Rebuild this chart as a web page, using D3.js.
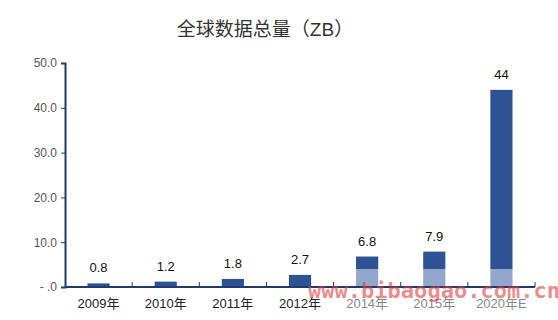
<!DOCTYPE html>
<html>
<head>
<meta charset="utf-8">
<script src="https://cdn.jsdelivr.net/npm/d3@7"></script>
<style>
  body { margin: 0; background: #fff; }
  svg { display: block; font-family: Arial, "Liberation Sans", "Noto Sans CJK SC", sans-serif; }
</style>
</head>
<body>
<svg id="chart"></svg>
<script>
var categories = ['2009年', '2010年', '2011年', '2012年', '2014年', '2015年', '2020年E'];
var totals = [0.8, 1.2, 1.8, 2.7, 6.8, 7.9, 44];
var baseParts = [0, 0, 0, 0, 4, 4, 4];
var valueLabels = ['0.8', '1.2', '1.8', '2.7', '6.8', '7.9', '44'];
var yTicks = [0, 10, 20, 30, 40, 50];

var width = 558, height = 320;
var svg = d3.select('#chart').attr('width', width).attr('height', height);

var x = d3.scaleBand().domain(categories).range([65, 535]).paddingInner(0.67).paddingOuter(0.335);
var y = d3.scaleLinear().domain([0, 50]).range([287, 63]);

svg.append('text')
  .attr('x', 265).attr('y', 36)
  .attr('text-anchor', 'middle')
  .attr('font-size', 19)
  .attr('fill', '#333')
  .text('全球数据总量（ZB）');

// bars: light lower part, dark upper part
var bars = svg.append('g');
categories.forEach(function(c, i) {
  if (baseParts[i] > 0) {
    bars.append('rect')
      .attr('x', x(c)).attr('width', x.bandwidth())
      .attr('y', y(baseParts[i])).attr('height', y(0) - y(baseParts[i]))
      .attr('fill', '#93a6cc');
  }
  bars.append('rect')
    .attr('x', x(c)).attr('width', x.bandwidth())
    .attr('y', y(totals[i])).attr('height', y(baseParts[i]) - y(totals[i]))
    .attr('fill', '#2e5395');
  bars.append('text')
    .attr('x', x(c) + x.bandwidth() / 2)
    .attr('y', y(totals[i]) - 11)
    .attr('text-anchor', 'middle')
    .attr('font-size', 13)
    .attr('fill', '#111')
    .text(valueLabels[i]);
});

// y axis
var yAxis = svg.append('g')
  .attr('transform', 'translate(65,0)')
  .call(d3.axisLeft(y).tickValues(yTicks).tickSize(4).tickPadding(4)
    .tickFormat(function(d) { return d === 0 ? '-  .0' : d.toFixed(1); }));
yAxis.select('.domain').attr('stroke', '#1f3a6e').attr('stroke-width', 2);
yAxis.selectAll('.tick line').attr('stroke', '#1f3a6e');
yAxis.selectAll('.tick text').attr('font-size', 12).attr('fill', '#555').attr('font-family', 'Arial, "Liberation Sans", sans-serif');

// x axis with boundary ticks pointing up
var step = x.step();
var bounds = d3.range(categories.length + 1).map(function(i) { return 65 + i * step; });
var xAxis = svg.append('g');
xAxis.append('line')
  .attr('x1', 65).attr('x2', 535).attr('y1', y(0)).attr('y2', y(0))
  .attr('stroke', '#1f3a6e').attr('stroke-width', 2);
bounds.slice(1).forEach(function(bx) {
  xAxis.append('line')
    .attr('x1', bx).attr('x2', bx).attr('y1', y(0)).attr('y2', y(0) - 5)
    .attr('stroke', '#1f3a6e');
});
categories.forEach(function(c, i) {
  xAxis.append('text')
    .attr('x', x(c) + x.bandwidth() / 2)
    .attr('y', 308)
    .attr('text-anchor', 'middle')
    .attr('font-size', 13)
    .attr('fill', i < 4 ? '#222' : '#888')
    .text(c);
});

// watermark
svg.append('text')
  .attr('x', 308).attr('y', 298)
  .attr('font-size', 22)
  .attr('font-weight', 'bold')
  .attr('font-family', '"DejaVu Sans Mono", monospace')
  .attr('fill', '#e03c3c')
  .attr('fill-opacity', 0.6)
  .attr('textLength', 252)
  .text('www.bibaogao.com.cn');
</script>
</body>
</html>
